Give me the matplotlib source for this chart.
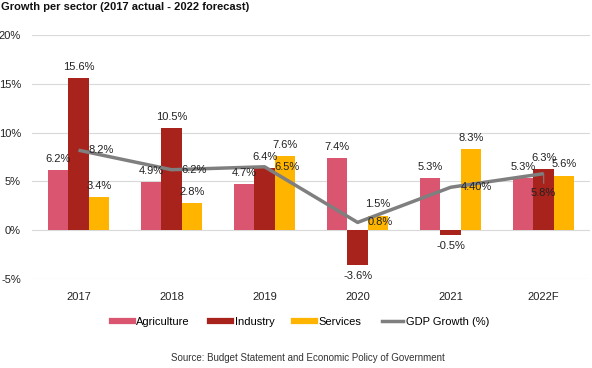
import matplotlib
matplotlib.use("Agg")
import matplotlib.pyplot as plt
from matplotlib.lines import Line2D
import numpy as np

plt.rcParams['font.family'] = ['Liberation Sans', 'DejaVu Sans']

categories = ["2017", "2018", "2019", "2020", "2021", "2022F"]
agriculture = [6.2, 4.9, 4.7, 7.4, 5.3, 5.3]
industry = [15.6, 10.5, 6.4, -3.6, -0.5, 6.3]
services = [3.4, 2.8, 7.6, 1.5, 8.3, 5.6]
gdp = [8.2, 6.2, 6.5, 0.8, 4.4, 5.8]
gdp_labels = ["8.2%", "6.2%", "6.5%", "0.8%", "4.40%", "5.8%"]
yticks = [-5, 0, 5, 10, 15, 20]

c_agr = "#DA5570"
c_ind = "#A8231B"
c_srv = "#FFB400"
c_gdp = "#7F7F7F"

fig = plt.figure(figsize=(5.92, 3.68), dpi=100)
ax = fig.add_axes([0.054, 0.2418, 0.943, 0.663])

x = np.arange(len(categories))
w = 0.22
fs = 8

for off, vals, col in [(-w, agriculture, c_agr), (0, industry, c_ind), (w, services, c_srv)]:
    bars = ax.bar(x + off, vals, width=w, color=col, zorder=2)
    for xi, v in zip(x + off, vals):
        dy = 8 if v >= 0 else -8
        ax.annotate(f"{v:.1f}%", (xi, v), xytext=(0, dy), textcoords="offset points",
                    ha="center", va="center", fontsize=fs, color="#222222", zorder=5)

ax.plot(x, gdp, color=c_gdp, lw=2.5, zorder=3, solid_capstyle="butt")
for i, (v, lab) in enumerate(zip(gdp, gdp_labels)):
    if i == len(gdp) - 1:
        ax.annotate(lab, (x[i], v), xytext=(0, -14), textcoords="offset points",
                    ha="center", va="center", fontsize=fs, color="#222222", zorder=5)
        ax.annotate("", (x[i], v), xytext=(x[i], v - 1.0), textcoords="data",
                    arrowprops=dict(arrowstyle="-", color=c_gdp, lw=0.8, shrinkA=0, shrinkB=0))
    else:
        ax.annotate(lab, (x[i], v), xytext=(7, 0), textcoords="offset points",
                    ha="left", va="center", fontsize=fs, color="#222222", zorder=5)

ax.set_xlim(-0.5, len(categories) - 0.5)
ax.set_ylim(-5, 20)
ax.set_yticks(yticks)
ax.set_yticklabels([f"{t}%" for t in yticks], fontsize=fs, color="#222222")
ax.set_xticks(x)
ax.set_xticklabels(categories, fontsize=fs, color="#222222")
ax.tick_params(axis="both", length=0)
ax.tick_params(axis="y", pad=8)
ax.tick_params(axis="x", pad=9)
for s in ax.spines.values():
    s.set_visible(False)
ax.yaxis.grid(True, color="#D9D9D9", lw=0.8, zorder=0)
ax.set_axisbelow(True)

handles = [Line2D([], [], color=c_agr, lw=4.5),
           Line2D([], [], color=c_ind, lw=4.5),
           Line2D([], [], color=c_srv, lw=4.5),
           Line2D([], [], color=c_gdp, lw=2.5)]
fig.legend(handles, ["Agriculture", "Industry", "Services", "GDP Growth (%)"],
           loc="center", bbox_to_anchor=(0.508, 0.125), ncol=4, frameon=False,
           fontsize=fs, handlelength=1.9, handletextpad=0.3, columnspacing=1.8)

fig.text(0.002, 0.995, "Growth per sector (2017 actual - 2022 forecast)", fontsize=8,
         fontweight="bold", ha="left", va="top", color="#111111")
fig.text(0.52, 0.027, "Source: Budget Statement and Economic Policy of Government",
         fontsize=7, ha="center", va="center", color="#333333")

fig.savefig("out.png", dpi=100)
